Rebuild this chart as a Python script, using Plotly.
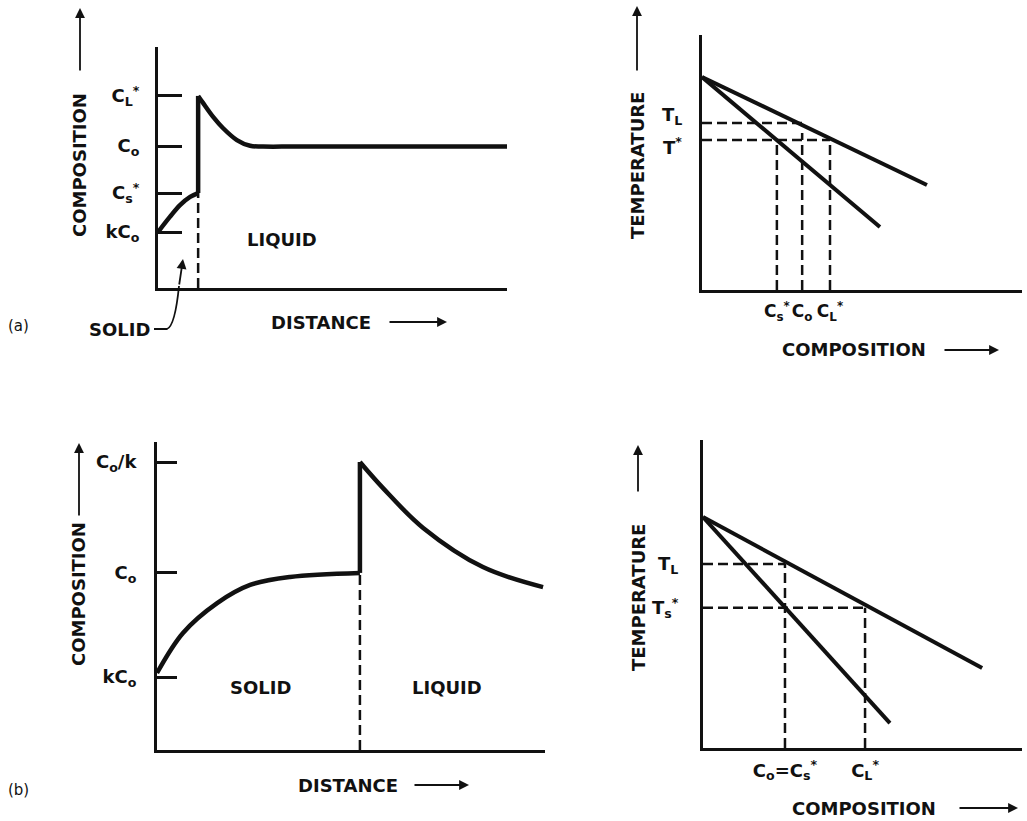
import plotly.graph_objects as go

W, H = 1027, 821
FONT = "DejaVu Sans"
INK = "#111111"

# ---------------- data ----------------
# (a) left: composition vs distance (steady state)
a_sol_x = [0, 3.4, 6.3, 9.2, 11.5]
a_sol_y = [23.2, 29.5, 34.4, 37.8, 39.4]
a_jump_x = [11.5, 11.5]
a_jump_y = [39.4, 79.7]
a_liq_x = [11.5, 12.9, 15.8, 18.6, 22.6, 26.4, 30.1, 40.0, 100.0]
a_liq_y = [79.7, 76.8, 71.0, 66.4, 61.4, 59.0, 58.7, 58.7, 58.7]
a_ticks = [23.2, 39.4, 58.9, 79.7]
a_ticktext = ["kC<sub>o</sub>", "C<sub>s</sub><sup>*</sup>", "C<sub>o</sub>", "C<sub>L</sub><sup>*</sup>"]

# (a) right: phase diagram
ar_liq_x = [0, 70.3]
ar_liq_y = [83.5, 41.2]
ar_sol_x = [0, 55.6]
ar_sol_y = [83.5, 24.7]
ar_xticks = [23.4, 31.3, 40.0]
ar_xtext = ["C<sub>s</sub><sup>*</sup>", "C<sub>o</sub>", "C<sub>L</sub><sup>*</sup>"]
ar_yticks = [65.5, 58.8]
ar_ytext = ["T<sub>L</sub>", "T<sup>*</sup>"]
ar_c0_top = 61.6

# (b) left: composition vs distance (initial transient)
b_sol_x = [0, 6.7, 15.5, 24.0, 34.3, 52.3]
b_sol_y = [25.0, 38.0, 47.7, 53.6, 56.2, 57.5]
b_jump_x = [52.3, 52.3]
b_jump_y = [57.5, 93.5]
b_liq_x = [52.3, 58.2, 68.6, 84.0, 99.5]
b_liq_y = [93.5, 85.1, 72.1, 59.4, 52.9]
b_ticks = [23.7, 57.5, 93.5]
b_ticktext = ["kC<sub>o</sub>", "C<sub>o</sub>", "C<sub>o</sub>/k"]

# (b) right: phase diagram
br_liq_x = [0, 87.5]
br_liq_y = [75.0, 26.0]
br_sol_x = [0, 58.6]
br_sol_y = [75.0, 8.1]
br_xticks = [25.7, 50.8]
br_xtext = ["C<sub>o</sub>=C<sub>s</sub><sup>*</sup>", "C<sub>L</sub><sup>*</sup>"]
br_yticks = [59.7, 45.5]
br_ytext = ["T<sub>L</sub>", "T<sub>s</sub><sup>*</sup>"]

# ---------------- figure ----------------
fig = go.Figure()


def line(x, y, xa, ya, width=4.5, dash=None, shape="linear"):
    fig.add_trace(go.Scatter(
        x=x, y=y, xaxis=xa, yaxis=ya, mode="lines", hoverinfo="skip",
        line=dict(color=INK, width=width, dash=dash, shape=shape, smoothing=1.0),
        showlegend=False))


DASH = "10px,5px"
DW = 2.5

# (a) left
line(a_sol_x, a_sol_y, "x", "y", shape="spline")
line(a_jump_x, a_jump_y, "x", "y")
line(a_liq_x, a_liq_y, "x", "y", shape="spline")
line([a_jump_x[0]] * 2, [0, a_jump_y[0]], "x", "y", width=DW, dash=DASH)

# (a) right
line(ar_liq_x, ar_liq_y, "x2", "y2", width=4)
line(ar_sol_x, ar_sol_y, "x2", "y2", width=4)
line([0, ar_xticks[1]], [ar_yticks[0]] * 2, "x2", "y2", width=DW, dash=DASH)
line([0, ar_xticks[2]], [ar_yticks[1]] * 2, "x2", "y2", width=DW, dash=DASH)
line([ar_xticks[0]] * 2, [0, ar_yticks[1]], "x2", "y2", width=DW, dash=DASH)
line([ar_xticks[1]] * 2, [0, ar_c0_top], "x2", "y2", width=DW, dash=DASH)
line([ar_xticks[2]] * 2, [0, ar_yticks[1]], "x2", "y2", width=DW, dash=DASH)

# (b) left
line(b_sol_x, b_sol_y, "x3", "y3", shape="spline")
line(b_jump_x, b_jump_y, "x3", "y3")
line(b_liq_x, b_liq_y, "x3", "y3", shape="spline")
line([b_jump_x[0]] * 2, [0, b_jump_y[0]], "x3", "y3", width=DW, dash=DASH)

# (b) right
line(br_liq_x, br_liq_y, "x4", "y4", width=4)
line(br_sol_x, br_sol_y, "x4", "y4", width=4)
line([0, br_xticks[0]], [br_yticks[0]] * 2, "x4", "y4", width=DW, dash=DASH)
line([0, br_xticks[1]], [br_yticks[1]] * 2, "x4", "y4", width=DW, dash=DASH)
line([br_xticks[0]] * 2, [0, br_yticks[0]], "x4", "y4", width=DW, dash=DASH)
line([br_xticks[1]] * 2, [0, br_yticks[1]], "x4", "y4", width=DW, dash=DASH)

TICKFONT = dict(family=FONT, size=18, color=INK, weight="bold")


def xa(px0, px1, anchor, tickvals=None, ticktext=None, size=18):
    d = dict(domain=[px0 / W, px1 / W], anchor=anchor, range=[0, 100],
             showgrid=False, zeroline=False, showline=True, linecolor=INK,
             linewidth=3, fixedrange=True, ticks="", tickangle=0,
             tickfont=dict(TICKFONT, size=size))
    if tickvals is None:
        d["showticklabels"] = False
    else:
        d.update(tickmode="array", tickvals=tickvals, ticktext=ticktext,
                 ticklabelstandoff=4)
    return d


def ya(py0, py1, anchor, tickvals=None, ticktext=None, inside=0, standoff=10):
    d = dict(domain=[1 - py1 / H, 1 - py0 / H], anchor=anchor, range=[0, 100],
             showgrid=False, zeroline=False, showline=True, linecolor=INK,
             linewidth=3, fixedrange=True, tickfont=TICKFONT)
    if tickvals is None:
        d["showticklabels"] = False
    else:
        d.update(tickmode="array", tickvals=tickvals, ticktext=ticktext,
                 ticklabelstandoff=standoff)
    if inside:
        d.update(ticks="inside", ticklen=inside, tickwidth=2.5, tickcolor=INK)
    else:
        d.update(ticks="")
    return d


fig.update_layout(
    width=W, height=H, autosize=False,
    margin=dict(l=0, r=0, t=0, b=0),
    paper_bgcolor="white", plot_bgcolor="white",
    font=dict(family=FONT, size=18, color=INK, weight="bold"),
    xaxis=xa(158, 507, "y"),
    yaxis=ya(47, 288, "x", a_ticks, a_ticktext, inside=24, standoff=12),
    xaxis2=xa(702, 1022, "y2", ar_xticks, ar_xtext, size=17),
    yaxis2=ya(35, 290, "x2"),
    xaxis3=xa(157, 545, "y3"),
    yaxis3=ya(442, 750, "x3", b_ticks, b_ticktext, inside=20, standoff=14),
    xaxis4=xa(703, 1022, "y4", br_xticks, br_xtext),
    yaxis4=ya(440, 748, "x4", br_yticks, br_ytext, standoff=18),
)


def px(x):
    return x / W


def py(y):
    return 1 - y / H


ann = []


def text(x, y, s, size=18, angle=0, xanchor="center", weight="bold"):
    ann.append(dict(x=px(x), y=py(y), xref="paper", yref="paper", text=s,
                    showarrow=False, textangle=angle, xanchor=xanchor,
                    yanchor="middle",
                    font=dict(family=FONT, size=size, color=INK, weight=weight)))


def arrow(hx, hy, tx, ty):
    ann.append(dict(x=px(hx), y=py(hy), xref="paper", yref="paper", text="",
                    showarrow=True, ax=tx - hx, ay=ty - hy, axref="pixel", ayref="pixel",
                    arrowhead=2, arrowsize=1.1, arrowwidth=1.8, arrowcolor=INK,
                    standoff=0, startstandoff=0))


# temperature labels of panel (a) right, placed beside the axis values
for val, lab, shift in zip(ar_yticks, ar_ytext, [7, -6]):
    ann.append(dict(x=0, y=val, xref="x2", yref="y2", text=lab, showarrow=False,
                    xanchor="right", yanchor="middle", xshift=-18, yshift=shift,
                    font=dict(family=FONT, size=18, color=INK, weight="bold")))

# axis titles + arrows
text(79, 165, "COMPOSITION", angle=-90)
arrow(80, 8, 80, 72)
text(321, 322, "DISTANCE")
arrow(447, 322, 388, 322)

text(637, 166, "TEMPERATURE", angle=-90)
arrow(637, 6, 637, 72)
text(854, 350, "COMPOSITION")
arrow(999, 350, 943, 350)

text(78, 594, "COMPOSITION", angle=-90)
arrow(79, 443, 79, 517)
text(348, 785, "DISTANCE")
arrow(469, 785, 413, 785)

text(638, 598, "TEMPERATURE", angle=-90)
arrow(638, 445, 638, 493)
text(864, 808, "COMPOSITION")
arrow(1018, 808, 958, 808)

# region labels
text(282, 240, "LIQUID")
text(119, 329, "SOLID")
text(260, 687, "SOLID")
text(447, 687, "LIQUID")

# panel labels
text(18, 326, "(a)", size=15, weight="normal")
text(18, 790, "(b)", size=15, weight="normal")

# SOLID leader
arrow(183, 259, 179, 286)
fig.add_shape(type="path", xref="paper", yref="paper",
              path=f"M {px(154)},{py(329)} L {px(167)},{py(329)} "
                   f"Q {px(175)},{py(326)} {px(179)},{py(286)}",
              line=dict(color=INK, width=1.8))

fig.update_layout(annotations=ann)

fig.write_html("out.html", config={"displayModeBar": False},
               post_script="document.body.style.margin='0';")
